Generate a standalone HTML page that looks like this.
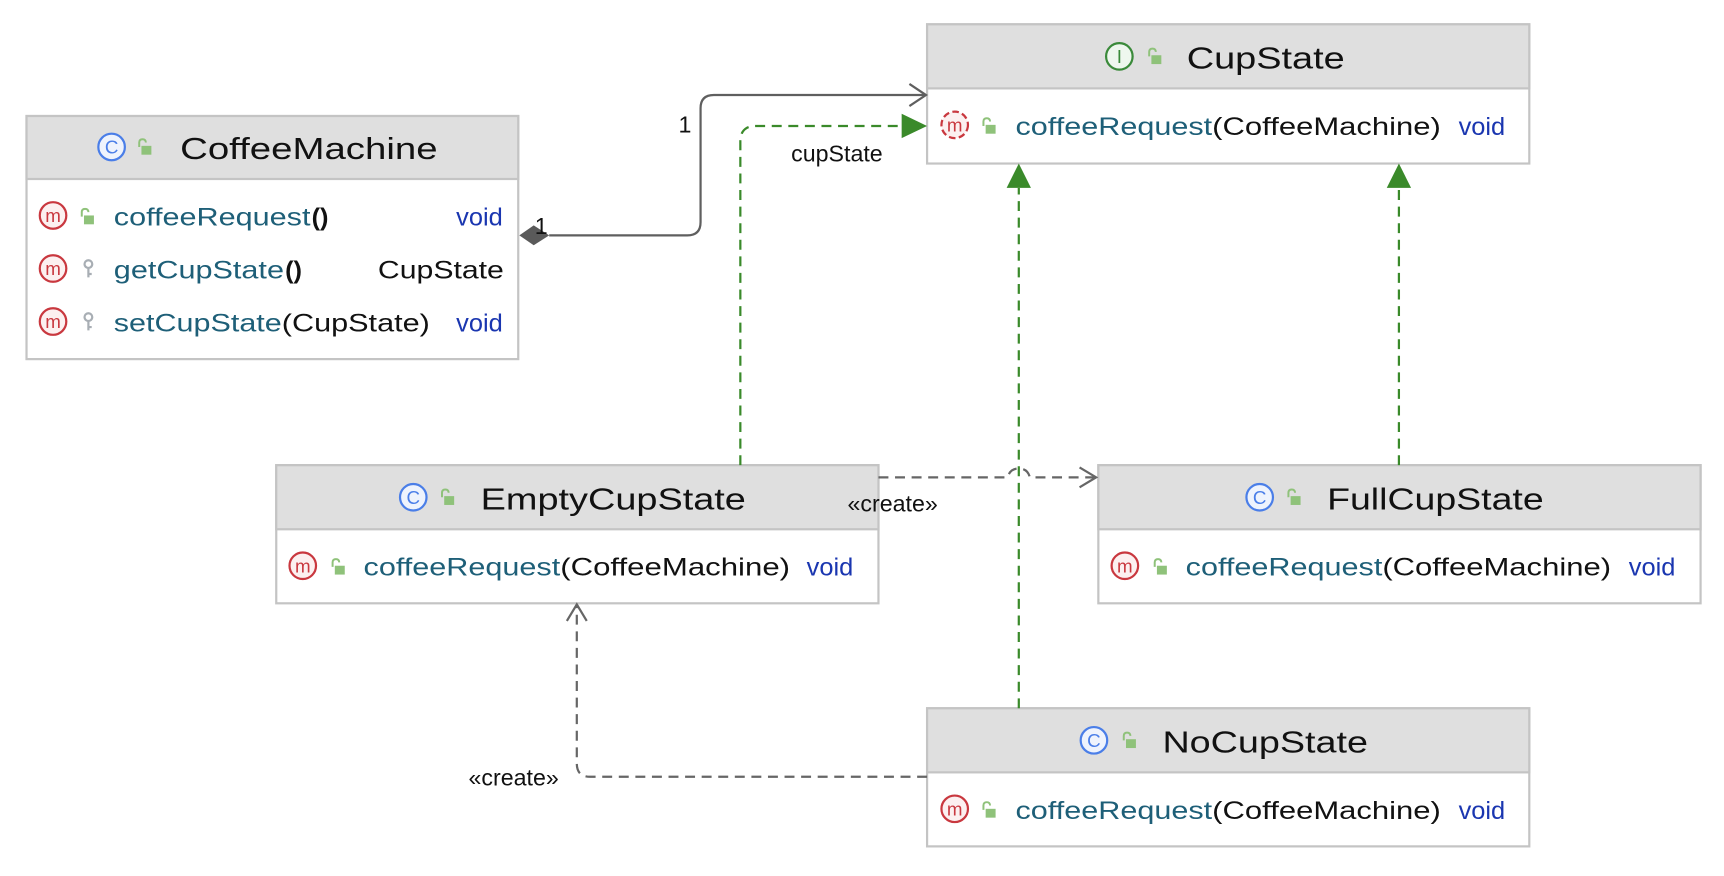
<!DOCTYPE html>
<html><head><meta charset="utf-8"><style>
html,body{margin:0;padding:0;background:#fff;}
svg{display:block;}
text{font-family:"Liberation Sans",sans-serif;}
</style></head><body>
<svg width="1724" height="876" viewBox="0 0 1560.2 792.8" preserveAspectRatio="none" xmlns="http://www.w3.org/2000/svg">
<rect width="1560.2" height="792.8" fill="#fff"/>

<!-- Boxes -->
<g stroke="#c4c4c4" stroke-width="2">
 <rect x="24" y="105" width="445" height="220" fill="#fff"/>
 <rect x="24" y="105" width="445" height="57" fill="#dfdfdf"/>
 <rect x="839" y="22" width="545" height="126" fill="#fff"/>
 <rect x="839" y="22" width="545" height="58" fill="#dfdfdf"/>
 <rect x="250" y="421" width="545" height="125" fill="#fff"/>
 <rect x="250" y="421" width="545" height="58" fill="#dfdfdf"/>
 <rect x="994" y="421" width="545" height="125" fill="#fff"/>
 <rect x="994" y="421" width="545" height="58" fill="#dfdfdf"/>
 <rect x="839" y="641" width="545" height="125" fill="#fff"/>
 <rect x="839" y="641" width="545" height="58" fill="#dfdfdf"/>
</g>

<!-- Connectors -->
<g fill="none" stroke-width="2">
 <!-- composition -->
 <path d="M497 213 H622 Q634 213 634 201 V98 Q634 86 646 86 H837" stroke="#5f5f5f"/>
 <path d="M823 76 L838 86 L823 96" stroke="#5f5f5f"/>
 <!-- cupState dashed green -->
 <path d="M670 421 V128 Q670 114 684 114 H818" stroke="#3a8a2a" stroke-dasharray="9,6"/>
 <path d="M922 641 V170" stroke="#3a8a2a" stroke-dasharray="9,6"/>
 <path d="M1266 421 V170" stroke="#3a8a2a" stroke-dasharray="9,6"/>
 <!-- create: Empty -> Full -->
 <path d="M795 432 H912 Q914 424 922 424 Q930 424 932 432 H992" stroke="#666" stroke-dasharray="9,6"/>
 <path d="M977 423 L992 432 L977 441" stroke="#666"/>
 <!-- create: No -> Empty -->
 <path d="M839 703 H534 Q522 703 522 691 V548" stroke="#666" stroke-dasharray="9,6"/>
 <path d="M513 562 L522 547 L531 562" stroke="#666"/>
</g>
<polygon points="470,213 483,204 497,213 483,222" fill="#5a5a5a"/>
<polygon points="816,103 839,114 816,125" fill="#3a8a2a"/>
<polygon points="911,170 922,148 933,170" fill="#3a8a2a"/>
<polygon points="1255,170 1266,148 1277,170" fill="#3a8a2a"/>

<g font-size="21" fill="#111">
 <text x="484" y="212">1</text>
 <text x="614" y="120">1</text>
 <text x="716" y="146">cupState</text>
 <text x="767" y="463">«create»</text>
 <text x="424" y="711">«create»</text>
</g>

<!-- Icons: class C -->
<g font-size="17" text-anchor="middle">
 <circle cx="101" cy="133" r="12" fill="#eef3fd" stroke="#4a7ee8" stroke-width="2"/><text x="101" y="139" fill="#4a7ee8">C</text>
 <circle cx="374" cy="450" r="12" fill="#eef3fd" stroke="#4a7ee8" stroke-width="2"/><text x="374" y="456" fill="#4a7ee8">C</text>
 <circle cx="1140" cy="450" r="12" fill="#eef3fd" stroke="#4a7ee8" stroke-width="2"/><text x="1140" y="456" fill="#4a7ee8">C</text>
 <circle cx="990" cy="670" r="12" fill="#eef3fd" stroke="#4a7ee8" stroke-width="2"/><text x="990" y="676" fill="#4a7ee8">C</text>
 <circle cx="1013" cy="51" r="12" fill="#eef7ee" stroke="#3a8a3a" stroke-width="2"/><text x="1013" y="57" fill="#3a8a3a" font-family="Liberation Serif">I</text>
 <!-- methods m -->
 <circle cx="48" cy="195" r="12" fill="#fcf0f0" stroke="#c9383f" stroke-width="2"/><text x="48" y="201" fill="#c9383f">m</text>
 <circle cx="48" cy="243" r="12" fill="#fcf0f0" stroke="#c9383f" stroke-width="2"/><text x="48" y="249" fill="#c9383f">m</text>
 <circle cx="48" cy="291" r="12" fill="#fcf0f0" stroke="#c9383f" stroke-width="2"/><text x="48" y="297" fill="#c9383f">m</text>
 <circle cx="864" cy="113" r="12" fill="#fcf0f0" stroke="#c9383f" stroke-width="2" stroke-dasharray="6,3"/><text x="864" y="119" fill="#c9383f">m</text>
 <circle cx="274" cy="512" r="12" fill="#fcf0f0" stroke="#c9383f" stroke-width="2"/><text x="274" y="518" fill="#c9383f">m</text>
 <circle cx="1018" cy="512" r="12" fill="#fcf0f0" stroke="#c9383f" stroke-width="2"/><text x="1018" y="518" fill="#c9383f">m</text>
 <circle cx="864" cy="732" r="12" fill="#fcf0f0" stroke="#c9383f" stroke-width="2"/><text x="864" y="738" fill="#c9383f">m</text>
</g>

<!-- locks -->
<g fill="#8fc27a" stroke="#8fc27a">
 <g transform="translate(131,134)"><rect x="-3" y="-2" width="9" height="8" stroke="none"/><path d="M-5 -1 V-5 Q-5 -8 -2 -8 Q1 -8 1 -5" fill="none" stroke-width="1.8"/></g>
 <g transform="translate(405,451)"><rect x="-3" y="-2" width="9" height="8" stroke="none"/><path d="M-5 -1 V-5 Q-5 -8 -2 -8 Q1 -8 1 -5" fill="none" stroke-width="1.8"/></g>
 <g transform="translate(1171,451)"><rect x="-3" y="-2" width="9" height="8" stroke="none"/><path d="M-5 -1 V-5 Q-5 -8 -2 -8 Q1 -8 1 -5" fill="none" stroke-width="1.8"/></g>
 <g transform="translate(1022,671)"><rect x="-3" y="-2" width="9" height="8" stroke="none"/><path d="M-5 -1 V-5 Q-5 -8 -2 -8 Q1 -8 1 -5" fill="none" stroke-width="1.8"/></g>
 <g transform="translate(1045,52)"><rect x="-3" y="-2" width="9" height="8" stroke="none"/><path d="M-5 -1 V-5 Q-5 -8 -2 -8 Q1 -8 1 -5" fill="none" stroke-width="1.8"/></g>
 <g transform="translate(79,197)"><rect x="-3" y="-2" width="9" height="8" stroke="none"/><path d="M-5 -1 V-5 Q-5 -8 -2 -8 Q1 -8 1 -5" fill="none" stroke-width="1.8"/></g>
 <g transform="translate(895,115)"><rect x="-3" y="-2" width="9" height="8" stroke="none"/><path d="M-5 -1 V-5 Q-5 -8 -2 -8 Q1 -8 1 -5" fill="none" stroke-width="1.8"/></g>
 <g transform="translate(306,514)"><rect x="-3" y="-2" width="9" height="8" stroke="none"/><path d="M-5 -1 V-5 Q-5 -8 -2 -8 Q1 -8 1 -5" fill="none" stroke-width="1.8"/></g>
 <g transform="translate(1050,514)"><rect x="-3" y="-2" width="9" height="8" stroke="none"/><path d="M-5 -1 V-5 Q-5 -8 -2 -8 Q1 -8 1 -5" fill="none" stroke-width="1.8"/></g>
 <g transform="translate(895,734)"><rect x="-3" y="-2" width="9" height="8" stroke="none"/><path d="M-5 -1 V-5 Q-5 -8 -2 -8 Q1 -8 1 -5" fill="none" stroke-width="1.8"/></g>
</g>
<!-- keys -->
<g fill="none" stroke="#a8aeb4" stroke-width="2">
 <circle cx="80" cy="239" r="3.5"/><path d="M80 243 V251 M80 248 H83"/>
 <circle cx="80" cy="287" r="3.5"/><path d="M80 291 V299 M80 296 H83"/>
</g>

<!-- Titles -->
<g font-size="28" fill="#111">
 <text x="163" y="144" textLength="233" lengthAdjust="spacingAndGlyphs">CoffeeMachine</text>
 <text x="1074" y="62" textLength="143" lengthAdjust="spacingAndGlyphs">CupState</text>
 <text x="435" y="461" textLength="240" lengthAdjust="spacingAndGlyphs">EmptyCupState</text>
 <text x="1201" y="461" textLength="196" lengthAdjust="spacingAndGlyphs">FullCupState</text>
 <text x="1052" y="681" textLength="186" lengthAdjust="spacingAndGlyphs">NoCupState</text>
</g>

<!-- Members -->
<g font-size="23">
 <text x="103" y="204" fill="#1e5f78" textLength="178" lengthAdjust="spacingAndGlyphs">coffeeRequest</text>
 <text x="282" y="204" fill="#111" font-weight="bold">()</text>
 <text x="455" y="204" fill="#1a36b0" text-anchor="end">void</text>
 <text x="103" y="252" fill="#1e5f78" textLength="154" lengthAdjust="spacingAndGlyphs">getCupState</text>
 <text x="258" y="252" fill="#111" font-weight="bold">()</text>
 <text x="456" y="252" fill="#111" text-anchor="end" textLength="114" lengthAdjust="spacingAndGlyphs">CupState</text>
 <text x="103" y="300" fill="#1e5f78" textLength="152" lengthAdjust="spacingAndGlyphs">setCupState</text>
 <text x="255" y="300" fill="#111" textLength="134" lengthAdjust="spacingAndGlyphs">(CupState)</text>
 <text x="455" y="300" fill="#1a36b0" text-anchor="end">void</text>

 <text x="919" y="122" fill="#1e5f78" textLength="178" lengthAdjust="spacingAndGlyphs">coffeeRequest</text>
 <text x="1097" y="122" fill="#111" textLength="207" lengthAdjust="spacingAndGlyphs">(CoffeeMachine)</text>
 <text x="1320" y="122" fill="#1a36b0">void</text>

 <text x="329" y="521" fill="#1e5f78" textLength="178" lengthAdjust="spacingAndGlyphs">coffeeRequest</text>
 <text x="507" y="521" fill="#111" textLength="208" lengthAdjust="spacingAndGlyphs">(CoffeeMachine)</text>
 <text x="730" y="521" fill="#1a36b0">void</text>

 <text x="1073" y="521" fill="#1e5f78" textLength="178" lengthAdjust="spacingAndGlyphs">coffeeRequest</text>
 <text x="1251" y="521" fill="#111" textLength="207" lengthAdjust="spacingAndGlyphs">(CoffeeMachine)</text>
 <text x="1474" y="521" fill="#1a36b0">void</text>

 <text x="919" y="741" fill="#1e5f78" textLength="178" lengthAdjust="spacingAndGlyphs">coffeeRequest</text>
 <text x="1097" y="741" fill="#111" textLength="207" lengthAdjust="spacingAndGlyphs">(CoffeeMachine)</text>
 <text x="1320" y="741" fill="#1a36b0">void</text>
</g>
</svg>
</body></html>
